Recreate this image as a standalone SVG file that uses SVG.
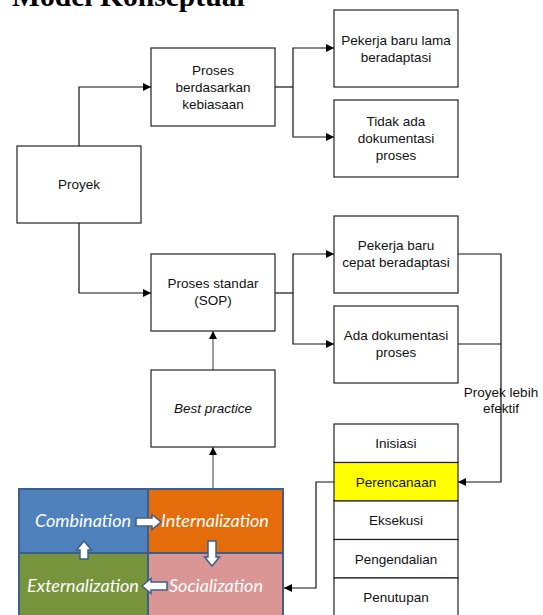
<svg xmlns="http://www.w3.org/2000/svg" width="543" height="615" viewBox="0 0 543 615">
  <style>
    .box { fill: #ffffff; stroke: #222222; stroke-width: 1.2; }
    .lbl { font-family: "Liberation Sans", Arial, sans-serif; font-size: 13.5px; fill: #111111; text-anchor: middle; }
    .wire { fill: none; stroke: #111111; stroke-width: 1.2; }
    .wire-g { fill: none; stroke: #7a7a7a; stroke-width: 1.5; }
    .seci { stroke: #3b5f8c; stroke-width: 2; }
    .seci-t { font-family: Lato, "Open Sans", sans-serif; font-style: italic; font-size: 18px; fill: #ffffff; text-anchor: middle; }
    .blk { fill: #ffffff; stroke: #3b5f8c; stroke-width: 1.5; stroke-linejoin: miter; }
  </style>
  <defs>
    <marker id="tri" viewBox="0 0 10 10" refX="10" refY="5" markerWidth="8" markerHeight="8" markerUnits="userSpaceOnUse" orient="auto">
      <path d="M0,0 L10,5 L0,10 z" fill="#000000"/>
    </marker>
  </defs>

  <rect width="543" height="615" fill="#ffffff"/>

  <!-- heading, partly above the top edge -->
  <text x="12" y="6" font-family="'Liberation Serif', 'Times New Roman', serif" font-weight="bold" font-size="29.6px" fill="#000000">Model Konseptual</text>

  <!-- connectors -->
  <g id="connectors">
    <path class="wire" d="M79,146 V87 H151" marker-end="url(#tri)"/>
    <path class="wire" d="M79,223 V293 H151" marker-end="url(#tri)"/>
    <path class="wire" d="M275,87 H293"/>
    <path class="wire" d="M293,87 V48 H334" marker-end="url(#tri)"/>
    <path class="wire" d="M293,87 V137 H334" marker-end="url(#tri)"/>
    <path class="wire" d="M275,293 H293"/>
    <path class="wire" d="M293,293 V254 H334" marker-end="url(#tri)"/>
    <path class="wire" d="M293,293 V344 H334" marker-end="url(#tri)"/>
    <path class="wire-g" d="M213,370 V331" marker-end="url(#tri)"/>
    <path class="wire-g" d="M213,488 V447" marker-end="url(#tri)"/>
    <path class="wire" d="M458,254 H501 V482 H458" marker-end="url(#tri)"/>
    <path class="wire" d="M458,344 H501"/>
    <path class="wire" d="M334,482 H316 V588 H284" marker-end="url(#tri)"/>
    <text class="lbl" x="501" y="397">Proyek lebih</text>
    <text class="lbl" x="501" y="413">efektif</text>
  </g>

  <g id="proyek">
    <rect class="box" x="17" y="146" width="124" height="77"/>
    <text class="lbl" x="79" y="189">Proyek</text>
  </g>

  <g id="proses-kebiasaan">
    <rect class="box" x="151" y="48" width="124" height="78"/>
    <text class="lbl" x="213" y="74.5">Proses</text>
    <text class="lbl" x="213" y="91.5">berdasarkan</text>
    <text class="lbl" x="213" y="108.5">kebiasaan</text>
  </g>

  <g id="proses-standar">
    <rect class="box" x="151" y="254" width="124" height="77"/>
    <text class="lbl" x="213" y="288">Proses standar</text>
    <text class="lbl" x="213" y="305">(SOP)</text>
  </g>

  <g id="best-practice">
    <rect class="box" x="151" y="370" width="124" height="77"/>
    <text class="lbl" x="213" y="413" font-style="italic">Best practice</text>
  </g>

  <g id="pekerja-lama">
    <rect class="box" x="334" y="10" width="124" height="77"/>
    <text class="lbl" x="396" y="44.5">Pekerja baru lama</text>
    <text class="lbl" x="396" y="61.5">beradaptasi</text>
  </g>

  <g id="tidak-ada-dokumentasi">
    <rect class="box" x="334" y="100" width="124" height="77"/>
    <text class="lbl" x="396" y="126">Tidak ada</text>
    <text class="lbl" x="396" y="143">dokumentasi</text>
    <text class="lbl" x="396" y="160">proses</text>
  </g>

  <g id="pekerja-cepat">
    <rect class="box" x="334" y="216" width="124" height="77"/>
    <text class="lbl" x="396" y="250">Pekerja baru</text>
    <text class="lbl" x="396" y="267">cepat beradaptasi</text>
  </g>

  <g id="ada-dokumentasi">
    <rect class="box" x="334" y="306" width="124" height="77"/>
    <text class="lbl" x="396" y="340">Ada dokumentasi</text>
    <text class="lbl" x="396" y="357">proses</text>
  </g>

  <!-- project phases -->
  <g id="fase-inisiasi">
    <rect class="box" x="334" y="424" width="124" height="38.5"/>
    <text class="lbl" x="396" y="448">Inisiasi</text>
  </g>
  <g id="fase-perencanaan">
    <rect class="box" x="334" y="462.5" width="124" height="38.5" style="fill:#ffff00"/>
    <text class="lbl" x="396" y="486.5">Perencanaan</text>
  </g>
  <g id="fase-eksekusi">
    <rect class="box" x="334" y="501" width="124" height="38.5"/>
    <text class="lbl" x="396" y="525">Eksekusi</text>
  </g>
  <g id="fase-pengendalian">
    <rect class="box" x="334" y="539.5" width="124" height="38.5"/>
    <text class="lbl" x="396" y="563.5">Pengendalian</text>
  </g>
  <g id="fase-penutupan">
    <rect class="box" x="334" y="578" width="124" height="40"/>
    <text class="lbl" x="396" y="602">Penutupan</text>
  </g>

  <!-- SECI knowledge cycle -->
  <g id="seci">
    <rect class="seci" x="19" y="489" width="129" height="64" fill="#4f81bd"/>
    <rect class="seci" x="148" y="489" width="135" height="64" fill="#e46c0a"/>
    <rect class="seci" x="19" y="553" width="129" height="66" fill="#77933c"/>
    <rect class="seci" x="148" y="553" width="135" height="66" fill="#d99694"/>
    <text class="seci-t" x="83" y="527">Combination</text>
    <text class="seci-t" x="215" y="527">Internalization</text>
    <text class="seci-t" x="83" y="592">Externalization</text>
    <text class="seci-t" x="216" y="592">Socialization</text>
    <!-- cycle arrows -->
    <path class="blk" d="M136,518 H152 V514.5 L161,522 L152,529.5 V526 H136 z"/>
    <path class="blk" d="M208,541 H216 V557 H219.5 L212,566 L204.5,557 H208 z"/>
    <path class="blk" d="M167,582 H151 V578.5 L142,586 L151,593.5 V590 H167 z"/>
    <path class="blk" d="M80,559 H88 V550 H91.5 L84,541 L76.5,550 H80 z"/>
  </g>
</svg>
